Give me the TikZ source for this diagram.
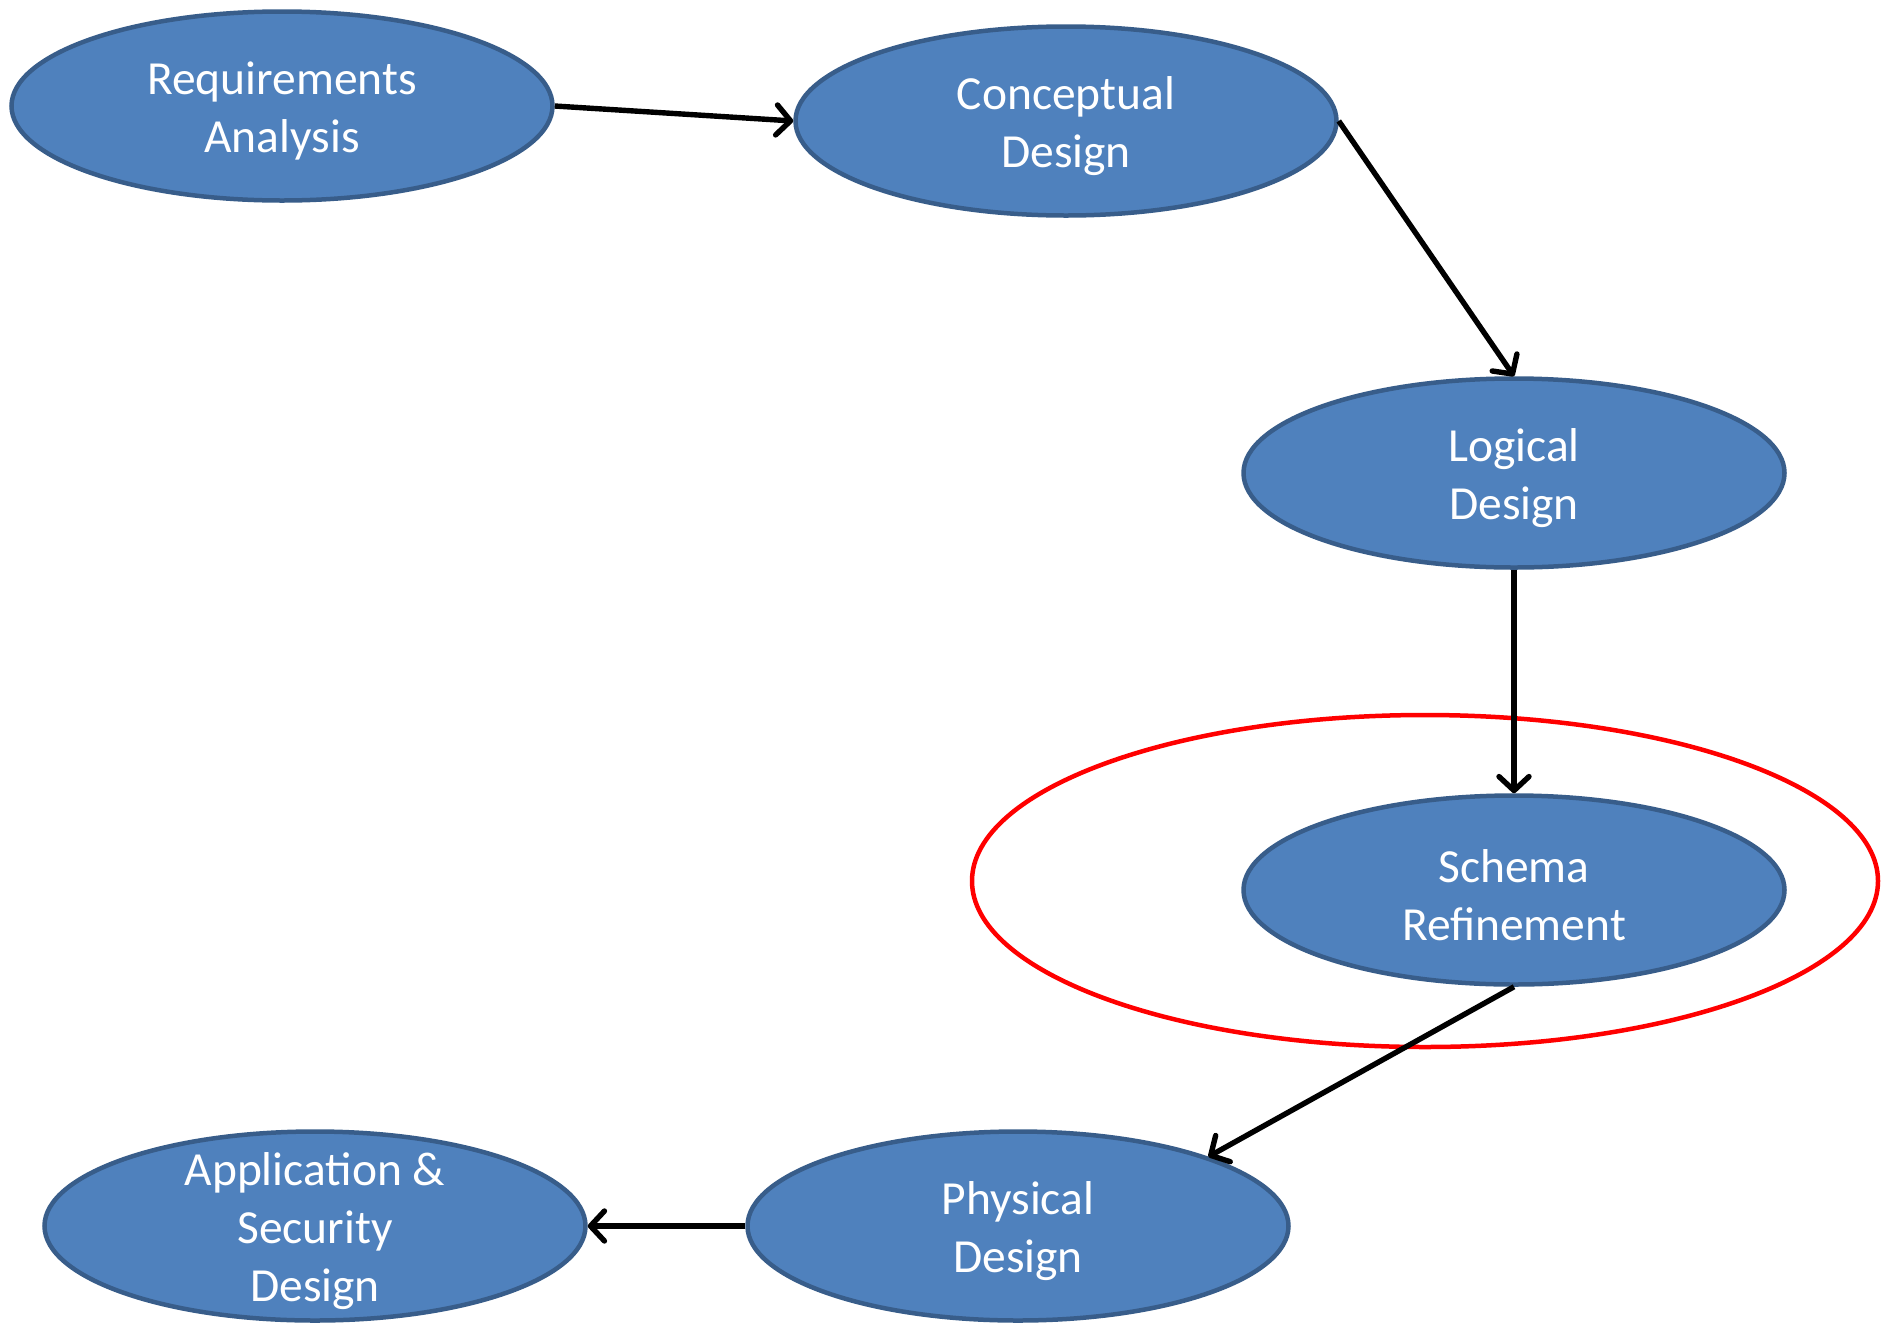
\documentclass[tikz,border=0pt]{standalone}
\usepackage{fontspec}
\setmainfont{Carlito}
\usetikzlibrary{shapes.geometric,arrows.meta}
\definecolor{stepfill}{HTML}{4F81BD}
\definecolor{stepline}{HTML}{385D8A}
\begin{document}
\begin{tikzpicture}[x=1pt,y=-1pt,
  stage/.style={ellipse, draw=stepline, line width=4.5pt, fill=stepfill,
    minimum width=541pt, minimum height=189pt, inner sep=0pt},
  lbl/.style={text=white, align=center, font=\fontsize{47.5}{58}\selectfont, inner sep=0pt, yshift=-5pt},
  flow/.style={line width=5.4pt, -{Straight Barb[length=14pt,width=30pt,line cap=round,round]}},
  focusring/.style={ellipse, draw=red, line width=4.5pt, minimum width=906pt, minimum height=332pt, inner sep=0pt}]
\useasboundingbox (0,0) rectangle (1883,1323);
\node[focusring] (focus) at (1425,881) {};
\node[stage, label={[lbl]center:{Requirements\\Analysis}}] (req) at (282,106) {};
\node[stage, label={[lbl]center:{Conceptual\\Design}}] (conc) at (1066,121) {};
\node[stage, label={[lbl]center:{Logical\\Design}}] (logic) at (1514,473) {};
\node[stage, label={[lbl]center:{Schema\\Refinement}}] (schema) at (1514,890) {};
\node[stage, label={[lbl]center:{Physical\\Design}}] (phys) at (1018,1226) {};
\node[stage, label={[lbl]center:{Application \&\\Security\\Design}}] (app) at (315,1226) {};
\draw[flow] (req.east) -- (conc.west);
\draw[flow] (conc.east) -- (logic.north);
\draw[flow] (logic.south) -- (schema.north);
\draw[flow] (schema.south) -- (phys.20);
\draw[flow] (phys.west) -- (app.east);
\end{tikzpicture}
\end{document}
